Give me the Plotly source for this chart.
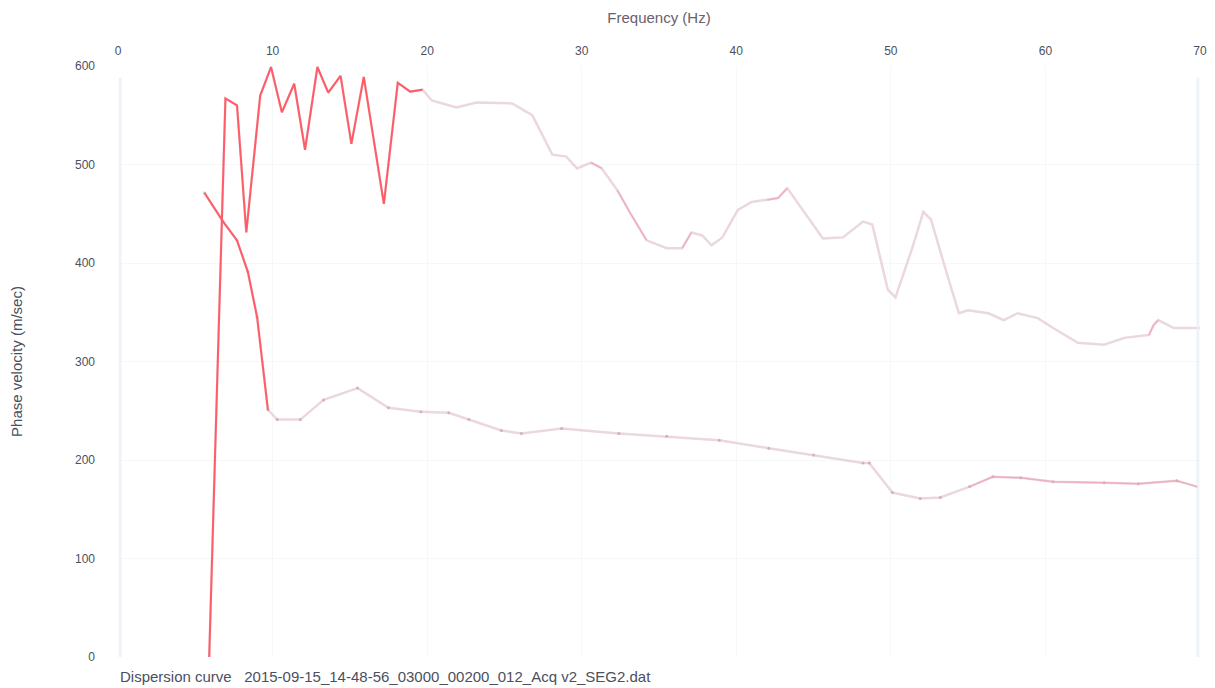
import plotly.graph_objects as go

# Upper dispersion branch
f_upper = [5.9, 6.95, 7.7, 8.3, 9.2, 9.9, 10.6, 11.4, 12.1, 12.9, 13.6, 14.4, 15.1, 15.9, 17.2, 18.1, 18.9, 19.7,
           20.3, 21.9, 23.2, 25.5, 26.8, 28.1, 29.0, 29.7, 30.6, 31.3, 32.3, 33.2, 34.2, 35.5, 36.5, 37.1, 37.8,
           38.4, 39.1, 40.1, 41.0, 42.0, 42.7, 43.3, 44.3, 45.6, 46.9, 48.2, 48.8, 49.8, 50.3, 50.9, 51.4, 52.1,
           52.6, 53.4, 54.4, 55.0, 56.3, 57.3, 58.2, 59.5, 60.5, 62.1, 63.8, 65.1, 66.7, 67.0, 67.3, 68.3, 70.0]
v_upper = [0, 567, 560, 431, 570, 599, 553, 582, 515, 599, 573, 590, 521, 589, 460, 583, 574, 576,
           565, 558, 563, 562, 550, 510, 508, 496, 502, 496, 474, 449, 423, 415, 415, 431, 428,
           418, 426, 454, 462, 464, 466, 476, 454, 425, 426, 442, 439, 373, 365, 393, 416, 452,
           444, 401, 349, 352, 349, 342, 349, 344, 334, 319, 317, 324, 327, 337, 342, 334, 334]

# Lower dispersion branch
f_lower = [5.6, 6.8, 7.7, 8.4, 9.0, 9.7, 10.3, 11.8, 13.3, 15.5, 17.5, 19.6, 21.4, 22.7, 24.8, 26.1, 28.7,
           32.4, 35.5, 38.9, 42.1, 45.0, 48.2, 48.6, 50.1, 51.9, 53.2, 55.1, 56.6, 58.4, 60.5, 63.8, 66.0, 68.5, 69.8]
v_lower = [471, 442, 423, 391, 345, 251, 241, 241, 261, 273, 253, 249, 248, 241, 230, 227, 232,
           227, 224, 220, 212, 205, 197, 197, 167, 161, 162, 173, 183, 182, 178, 177, 176, 179, 173]

RED = "#ff5c68"
PALE = "rgba(225,200,205,0.7)"
PINK = "rgba(240,165,182,0.8)"

fig = go.Figure()

# pale full curves
fig.add_trace(go.Scatter(x=f_upper, y=v_upper, mode="lines", line=dict(color=PALE, width=2.5), showlegend=False))
fig.add_trace(go.Scatter(x=f_lower, y=v_lower, mode="lines+markers", line=dict(color=PALE, width=2.5),
                         marker=dict(size=3, color="rgba(215,170,180,0.9)"), showlegend=False))

# brighter portions (index ranges)
def seg(xs, ys, a, b, color, width=2):
    fig.add_trace(go.Scatter(x=xs[a:b], y=ys[a:b], mode="lines", line=dict(color=color, width=width),
                             showlegend=False))

seg(f_upper, v_upper, 0, 18, RED)
seg(f_upper, v_upper, 26, 28, PINK, 1.5)
seg(f_upper, v_upper, 28, 31, PINK, 1.5)
seg(f_upper, v_upper, 32, 34, PINK, 1.5)
seg(f_upper, v_upper, 39, 42, PINK, 1.5)
seg(f_upper, v_upper, 64, 67, PINK, 1.5)
seg(f_lower, v_lower, 0, 6, RED)
seg(f_lower, v_lower, 27, 35, PINK, 1.5)

fig.update_layout(
    width=1199, height=680,
    margin=dict(l=110, r=7, t=58, b=31),
    paper_bgcolor="white", plot_bgcolor="white",
    font=dict(family="Liberation Sans, Arial, sans-serif", size=12, color="#4a5060"),
    xaxis=dict(range=[0, 70], side="top", dtick=10, showgrid=True, gridcolor="rgba(240,243,246,0.6)",
               zeroline=False, showline=False, ticks="", ticklabelstandoff=8, automargin=False,
               title=dict(text="Frequency (Hz)", font=dict(size=15, color="#6a6070"), standoff=16)),
    yaxis=dict(range=[0, 600], dtick=100, showgrid=True, gridcolor="rgba(242,244,246,0.7)",
               zeroline=False, showline=False, ticks="", ticklabelstandoff=22, automargin=False,
               title=dict(text="Phase velocity (m/sec)", font=dict(size=15, color="#4a5060"), standoff=54)),
)
fig.add_shape(type="line", xref="paper", yref="paper", x0=0.002, x1=0.002, y0=0, y1=0.98,
              line=dict(color="rgba(235,240,245,0.8)", width=3))
fig.add_shape(type="line", xref="paper", yref="paper", x0=0.998, x1=0.998, y0=0, y1=0.98,
              line=dict(color="rgba(235,240,245,0.8)", width=3))
fig.add_annotation(text="Dispersion curve   2015-09-15_14-48-56_03000_00200_012_Acq v2_SEG2.dat",
                   xref="paper", yref="paper", x=0, y=0, yshift=-19, xanchor="left", yanchor="middle",
                   showarrow=False, font=dict(size=15, color="#4a5060"))

fig.write_html("out.html")
